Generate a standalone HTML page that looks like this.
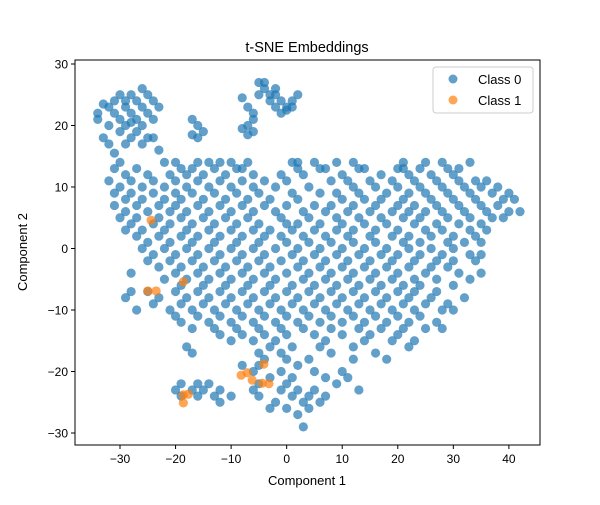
<!DOCTYPE html>
<html><head><meta charset="utf-8"><style>
body{margin:0;background:#fff;font-family:"Liberation Sans","DejaVu Sans",sans-serif}
</style></head><body>
<svg id="chart" width="600" height="500" xmlns="http://www.w3.org/2000/svg" font-family="Liberation Sans, DejaVu Sans, sans-serif">
<rect width="600" height="500" fill="#fff"/>
<text x="307" y="52" text-anchor="middle" font-size="14.5">t-SNE Embeddings</text>
<g id="marks"></g>
<g id="axes"></g>
<rect x="75" y="60" width="465" height="385" fill="none" stroke="#000" stroke-width="1"/>
<text x="307" y="485" text-anchor="middle" font-size="13">Component 1</text>
<text transform="translate(27,252) rotate(-90)" text-anchor="middle" font-size="13">Component 2</text>
<g>
<rect x="433" y="67" width="100" height="46" rx="3" fill="#fff" fill-opacity="0.8" stroke="#ccc"/>
<circle cx="453" cy="79" r="4.5" fill="#1f77b4" fill-opacity="0.7"/>
<text x="478" y="84" font-size="13">Class 0</text>
<circle cx="453" cy="100" r="4.5" fill="#ff7f0e" fill-opacity="0.7"/>
<text x="478" y="105" font-size="13">Class 1</text>
</g>
</svg>
<script>
const xTicks=[-30,-20,-10,0,10,20,30,40];
const yTicks=[-30,-20,-10,0,10,20,30];
const class0Clusters=[[-34,22],[-34,21],[-33,18],[-32,23],[-32,20],[-31,24],[-31,22],[-30,25],[-30,21],[-30,19],[-29,24],[-29,23],[-29,20],[-28,25],[-28,22],[-28,18],[-27,24],[-27,21],[-27,19],[-26,26],[-26,23],[-26,20],[-25,25],[-25,22],[-25,18],[-24,24],[-24,21],[-23,23],[-23,16],[-32,17],[-29,17],[-31,15.5],[-26,17],[-24,18],[-33,23.5],[-28,20.5],
[-17,21],[-16,20],[-16,18],[-17,18.5],[-15,19],
[-8,24.5],[-7,23],[-6,22],[-6,21],[-7,20],[-8,19.5],[-5,27],[-4,27],[-4,26],[-3,25],[-2,25],[-2,23],[-1,24],[-1,22],[0,23],[1,23],[1,24],[-3,24],[-5,25],[-6,19],[-2,26],[0,22.5],[-7,18.5],[2,25]];
const rowY=[14,13,12,11,10,9,8,7,6,5,4,3,2,1,0,-1,-2,-3,-4,-5,-6,-7,-8,-9,-10,-11,-12,-13,-14,-15,-16,-17,-18,-19,-20,-21,-22,-23,-24,-25,-26,-27,-29];
const rowX=[
[-30,-22,-20,-16,-14,-12,-10,-7,1,2,5,9,12,21,25,28,33],
[-31,-27,-19,-17,-13,-9,-8,2,6,7,13,14,20,21,24,29,31],
[-29,-25,-21,-18,-15,-11,-6,-1,3,10,17,22,26,30],
[-32,-28,-24,-20,-16,-12,-8,-4,0,8,11,15,19,23,27,31,34,36],
[-30,-26,-22,-18,-14,-10,-6,-2,4,12,16,20,24,28,32,35,38],
[-31,-28,-24,-20,-17,-13,-9,-5,1,6,9,13,18,22,25,29,33,37,40],
[-29,-26,-22,-19,-15,-11,-7,-3,2,10,14,17,21,26,30,34,39,41],
[-31,-27,-23,-20,-16,-12,-8,-4,0,5,8,12,16,20,23,27,31,35,38],
[-29,-25,-21,-18,-14,-10,-6,-2,3,7,11,15,19,22,25,28,32,36,40,42],
[-30,-27,-23,-19,-15,-11,-7,-1,4,9,13,17,21,24,29,33,37,39],
[-28,-24,-21,-17,-13,-9,-5,0,2,6,10,14,18,23,27,31,35],
[-29,-26,-22,-18,-14,-10,-6,-3,1,5,9,12,16,20,25,28,33,36],
[-27,-23,-19,-16,-12,-8,-4,-1,3,7,11,15,19,22,26,30,34],
[-25,-21,-17,-13,-9,-5,0,4,8,12,16,21,24,29,32,35],
[-26,-22,-18,-14,-10,-6,-2,2,6,10,14,18,22,26,30],
[-24,-20,-16,-12,-8,-4,1,5,9,13,17,20,24,28,33,35],
[-25,-21,-17,-13,-9,-5,-1,3,7,11,15,19,23,27,30,34],
[-23,-19,-15,-11,-7,-3,2,6,10,14,18,22,26,29],
[-28,-20,-16,-12,-8,-4,0,4,8,12,16,20,25,31,35],
[-22,-18,-14,-10,-6,-2,3,7,11,15,19,23,27,33],
[-19,-15,-11,-7,-3,1,5,9,13,17,21,24,30],
[-28,-25,-20,-16,-12,-8,-4,0,4,8,12,16,20,23,27],
[-29,-23,-18,-14,-10,-6,-2,2,6,10,14,18,22,26,32],
[-24,-19,-15,-11,-7,-3,1,5,9,13,17,21,25,29],
[-27,-21,-17,-13,-9,-5,-1,3,7,11,15,19,23,28,30],
[-20,-16,-12,-8,-4,0,4,8,12,16,20,24],
[-19,-14,-10,-6,-2,2,6,10,14,18,22,27],
[-17,-13,-9,-5,-1,3,8,13,17,21,25,28],
[-12,-8,-4,0,5,10,15,20],
[-10,-6,-2,7,14,19,23],
[-18,-3,1,6,12,22],
[-17,-5,-1,8,16],
[-4,0,4,12,18],
[-8,-5,2],
[-6,-1,5,10],
[-3,1,7,11],
[-19,-16,-14,-5,0,9],
[-20,-17,-15,-12,-6,-1,2,5,13],
[-19,-16,-13,-10,-5,1,4,7],
[-12,-2,3,6],
[-3,0,4],
[2],
[3]];
const class1X=[-24.4,-25,-23.5,-18.6,-4.1,-8.2,-7.1,-6.2,-4.4,-3.2,-18.6,-17.7,-18.6];
const class1Y=[4.6,-6.9,-6.9,-5.4,-18.8,-20.6,-20.2,-21.4,-21.9,-22,-23.8,-23.7,-25.1];

const X0=75,X1=540,Y0=60,Y1=445,xmin=-38.1,xmax=45.6,ymin=-31.95,ymax=30.65;
function sx(v){return X0+(v-xmin)/(xmax-xmin)*(X1-X0);}
function sy(v){return Y1-(v-ymin)/(ymax-ymin)*(Y1-Y0);}
const NS='http://www.w3.org/2000/svg';
const marks=document.getElementById('marks'),axes=document.getElementById('axes');
function dot(x,y,c,name){const e=document.createElementNS(NS,'circle');
e.setAttribute('cx',sx(x));e.setAttribute('cy',sy(y));e.setAttribute('r',4.6);
e.setAttribute('fill',c);e.setAttribute('fill-opacity',0.7);


marks.appendChild(e);}
class0Clusters.forEach(p=>dot(p[0],p[1],'#1f77b4','point-class-0'));
rowY.forEach((y,i)=>rowX[i].forEach(x=>dot(x,y,'#1f77b4','point-class-0')));
class1X.forEach((x,i)=>dot(x,class1Y[i],'#ff7f0e','point-class-1'));
function el(tag,attrs,txt){const e=document.createElementNS(NS,tag);for(const k in attrs)e.setAttribute(k,attrs[k]);if(txt!==undefined)e.textContent=txt;axes.appendChild(e);return e;}
xTicks.forEach(t=>{const x=sx(t);
const l=el('line',{x1:x,x2:x,y1:Y1,y2:Y1+4,stroke:'#000'});


const tx=el('text',{x:x,y:Y1+18,'text-anchor':'middle','font-size':12},String(t).replace('-','\u2212'));

});
yTicks.forEach(t=>{const y=sy(t);
const l=el('line',{x1:X0-4,x2:X0,y1:y,y2:y,stroke:'#000'});


const tx=el('text',{x:X0-7,y:y+4.5,'text-anchor':'end','font-size':12},String(t).replace('-','\u2212'));

});
</script>
</body></html>
